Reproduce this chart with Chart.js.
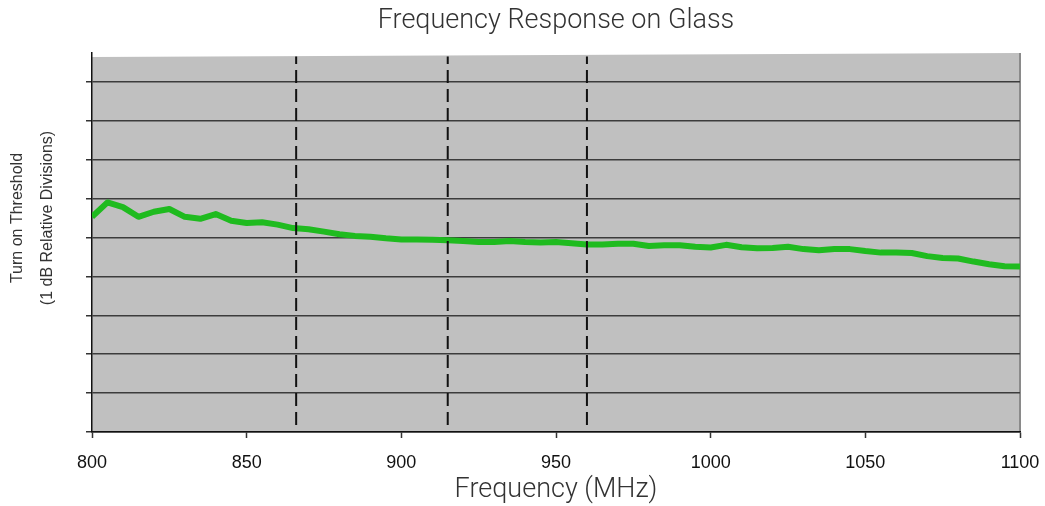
<!DOCTYPE html>
<html>
<head>
<meta charset="utf-8">
<script src="https://cdn.jsdelivr.net/npm/chart.js@4/dist/chart.umd.min.js"></script>
<style>
  html, body { margin: 0; padding: 0; background: #ffffff; }
  #wrap { width: 1045px; height: 506px; }
</style>
</head>
<body>
<div id="wrap"><canvas id="c" width="1045" height="506"></canvas></div>
<script>
// ---- Data ----
const chartTitle = 'Frequency Response on Glass';
const xTitle = 'Frequency (MHz)';
const yTitleLines = ['Turn on Threshold', '(1 dB Relative Divisions)'];

const frequencies = [800,805,810,815,820,825,830,835,840,845,850,855,860,865,870,875,880,885,890,895,
  900,905,910,915,920,925,930,935,940,945,950,955,960,965,970,975,980,985,990,995,
  1000,1005,1010,1015,1020,1025,1030,1035,1040,1045,1050,1055,1060,1065,1070,1075,1080,1085,1090,1095,1100];
const threshold = [5.53,5.90,5.78,5.53,5.66,5.73,5.53,5.48,5.60,5.43,5.37,5.39,5.33,5.24,5.21,5.15,5.08,5.04,5.02,4.98,
  4.95,4.95,4.94,4.93,4.91,4.88,4.88,4.91,4.88,4.87,4.88,4.85,4.82,4.82,4.84,4.84,4.78,4.80,4.80,4.76,
  4.74,4.81,4.75,4.72,4.73,4.76,4.70,4.67,4.70,4.70,4.65,4.61,4.61,4.60,4.52,4.47,4.46,4.38,4.31,4.26,4.25];

const markerFrequencies = [866, 915, 960];
const markerSpan = [0.18, 9.65];   // bottom / top of the dashed markers (axis units)

const xTicks = [800, 850, 900, 950, 1000, 1050, 1100];
const yRange = [0, 9.74];

// ---- Build datasets ----
const markerSets = markerFrequencies.map(f => ({
  data: markerSpan.map(v => ({ x: f, y: v })),
  borderColor: '#111111',
  borderWidth: 2,
  borderDash: [13, 6],
  pointRadius: 0,
  fill: false,
  order: 0
}));

const mainSet = {
  data: frequencies.map((f, i) => ({ x: f, y: threshold[i] })),
  borderColor: '#1fbb1f',
  borderWidth: 6,
  pointRadius: 0,
  tension: 0,
  fill: false,
  borderJoinStyle: 'round',
  order: 1
};

const plotBackground = {
  id: 'plotBackground',
  beforeDraw(chart) {
    const { ctx, chartArea: a } = chart;
    ctx.save();
    ctx.fillStyle = '#c0c0c0';
    ctx.beginPath();
    ctx.moveTo(a.left, a.bottom);
    ctx.lineTo(a.left, a.top + 4);
    ctx.lineTo(a.right, a.top);
    ctx.lineTo(a.right, a.bottom);
    ctx.closePath();
    ctx.fill();
    ctx.strokeStyle = '#8a8a8a';
    ctx.lineWidth = 2;
    ctx.beginPath();
    ctx.moveTo(a.right, a.top);
    ctx.lineTo(a.right, a.bottom);
    ctx.stroke();
    ctx.restore();
  }
};

const yTitlePlugin = {
  id: 'yTitlePlugin',
  afterDraw(chart) {
    const { ctx } = chart;
    ctx.save();
    ctx.font = '16px "Liberation Sans", Arial, sans-serif';
    ctx.fillStyle = '#333333';
    ctx.textAlign = 'center';
    ctx.textBaseline = 'middle';
    ctx.translate(18, 218);
    ctx.rotate(-Math.PI / 2);
    yTitleLines.forEach((t, i) => ctx.fillText(t, 0, i * 30));
    ctx.restore();
  }
};

new Chart(document.getElementById('c'), {
  type: 'line',
  data: { datasets: [...markerSets, mainSet] },
  options: {
    responsive: false,
    animation: false,
    layout: { padding: { left: 0, right: 25, top: 0, bottom: 0 } },
    plugins: {
      legend: { display: false },
      tooltip: { enabled: false },
      title: {
        display: true,
        text: chartTitle,
        fullSize: false,
        color: '#333333',
        font: { family: 'Roboto', size: 27, weight: '300' },
        padding: { top: 5, bottom: 15.6 }
      }
    },
    scales: {
      x: {
        type: 'linear',
        min: xTicks[0],
        max: xTicks[xTicks.length - 1],
        afterBuildTicks(s) { s.ticks = xTicks.map(v => ({ value: v })); },
        afterFit(s) { s.height = 74; s.paddingLeft = 0; s.paddingRight = 0; },
        ticks: {
          color: '#111111',
          font: { family: '"Liberation Sans", Arial, sans-serif', size: 18 },
          padding: 14,
          maxRotation: 0,
          callback: v => String(v)
        },
        grid: { drawOnChartArea: false, drawTicks: true, tickLength: 6, tickColor: '#333333', tickWidth: 1.5 },
        border: { display: true, color: '#111111', width: 1.5 },
        title: {
          display: true,
          text: xTitle,
          color: '#333333',
          font: { family: 'Roboto', size: 27, weight: '300' },
          padding: { top: 0, bottom: 0 }
        }
      },
      y: {
        min: yRange[0],
        max: yRange[1],
        afterBuildTicks(s) { s.ticks = s.ticks.filter(t => t.value <= 9.01); },
        afterFit(s) { s.width = 92; s.paddingTop = 0; s.paddingBottom = 0; },
        ticks: { display: false, stepSize: 1 },
        grid: { color: '#3c3c3c', lineWidth: 1.5, drawTicks: true, tickLength: 6, tickColor: '#333333' },
        border: { display: true, color: '#111111', width: 1.5 },
        title: { display: false }
      }
    }
  },
  plugins: [plotBackground, yTitlePlugin]
});
</script>
</body>
</html>
